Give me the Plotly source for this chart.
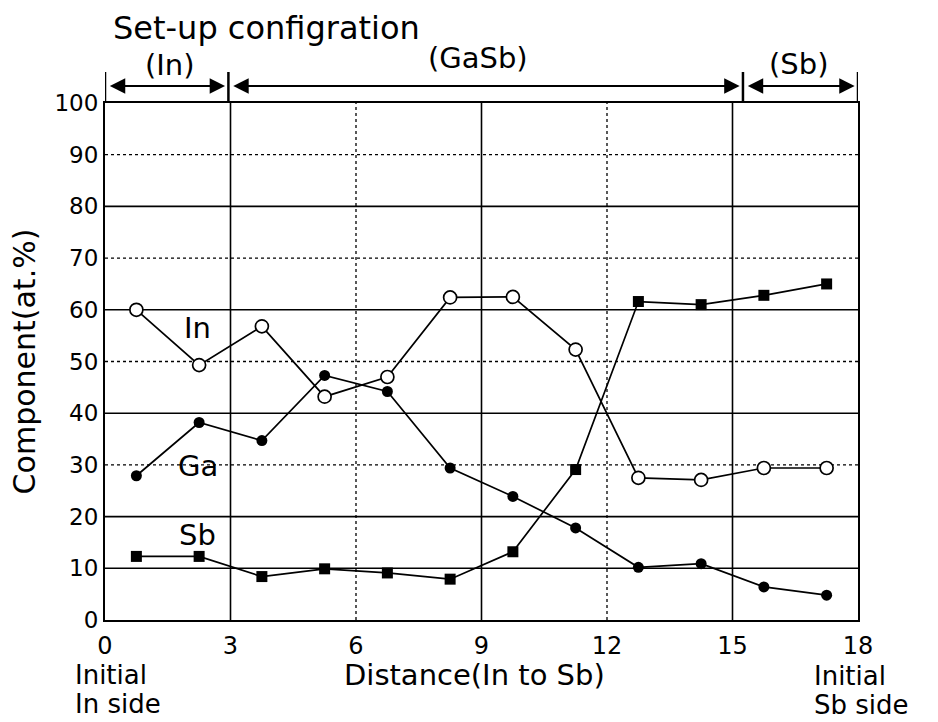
import plotly.graph_objects as go

# ---- data ----
distance = [0.75, 2.25, 3.75, 5.25, 6.75, 8.25, 9.75, 11.25, 12.75, 14.25, 15.75, 17.25]
in_vals = [60, 49.3, 56.8, 43.2, 47, 62.4, 62.5, 52.3, 27.5, 27.1, 29.4, 29.4]
ga_vals = [27.9, 38.2, 34.7, 47.3, 44.2, 29.4, 23.9, 17.8, 10.2, 10.9, 6.4, 4.8]
sb_vals = [12.3, 12.3, 8.4, 9.9, 9.1, 7.9, 13.2, 29.1, 61.6, 61, 62.8, 65]

x_ticks = [0, 3, 6, 9, 12, 15, 18]
y_ticks = [0, 10, 20, 30, 40, 50, 60, 70, 80, 90, 100]
h_solid = [10, 20, 40, 60, 80]
h_dotted = [30, 50, 70, 90]
v_solid = [3, 9, 15]
v_dotted = [6, 12]

region_labels = ["(In)", "(GaSb)", "(Sb)"]
region_starts = [0, 2.95, 15.25]
region_ends = [2.95, 15.25, 18]

FONT = "DejaVu Sans"
W, H = 938, 722
ML, MR, MT, MB = 105, 80, 103, 102
PW, PH = W - ML - MR, H - MT - MB


def px(xp):
    return (xp - ML) / PW


def py(yp):
    return (H - MB - yp) / PH


fig = go.Figure()

shapes = []
for y in h_solid:
    shapes.append(dict(type="line", xref="x", yref="y", x0=0, x1=18, y0=y, y1=y,
                       line=dict(color="black", width=1.6), layer="below"))
for y in h_dotted:
    shapes.append(dict(type="line", xref="x", yref="y", x0=0, x1=18, y0=y, y1=y,
                       line=dict(color="black", width=1.3, dash="dot"), layer="below"))
for x in v_solid:
    shapes.append(dict(type="line", xref="x", yref="y", x0=x, x1=x, y0=0, y1=100,
                       line=dict(color="black", width=1.6), layer="below"))
for x in v_dotted:
    shapes.append(dict(type="line", xref="x", yref="y", x0=x, x1=x, y0=0, y1=100,
                       line=dict(color="black", width=1.3, dash="dot"), layer="below"))

bounds = sorted(set(region_starts + region_ends))
for b in bounds:
    shapes.append(dict(type="line", xref="x", yref="paper", x0=b, x1=b, y0=py(101), y1=py(72),
                       line=dict(color="black", width=2.5)))

line_style = dict(color="black", width=1.7)

fig.add_trace(go.Scatter(x=distance, y=in_vals, mode="lines+markers", name="In",
                         line=line_style,
                         marker=dict(symbol="circle", size=13, color="white",
                                     line=dict(color="black", width=1.7))))
fig.add_trace(go.Scatter(x=distance, y=ga_vals, mode="lines+markers", name="Ga",
                         line=line_style,
                         marker=dict(symbol="circle", size=11, color="black")))
fig.add_trace(go.Scatter(x=distance, y=sb_vals, mode="lines+markers", name="Sb",
                         line=line_style,
                         marker=dict(symbol="square", size=11, color="black")))

tf = dict(size=29, family=FONT, color="black")
annotations = []
for a, b in zip(region_starts, region_ends):
    annotations.append(dict(x=b - 0.08, y=py(86), ax=a + 0.08, ay=py(86),
                            xref="x", yref="y domain", axref="x", ayref="y domain",
                            showarrow=True, arrowhead=2, arrowside="end+start",
                            arrowsize=1.4, arrowwidth=2.2, arrowcolor="black", text=""))
label_pos = [(170, 65), (478, 58), (798, 64)]
for lab, (lx, ly) in zip(region_labels, label_pos):
    annotations.append(dict(x=px(lx), y=py(ly), xref="paper", yref="paper", text=lab,
                            xanchor="center", yanchor="middle", showarrow=False, font=tf))
annotations.append(dict(x=px(266), y=py(28), xref="paper", yref="paper",
                        text="Set-up configration", showarrow=False,
                        xanchor="center", yanchor="middle",
                        font=dict(size=32, family=FONT, color="black")))

series_labels = ["In", "Ga", "Sb"]
series_label_x = [2.22, 2.22, 2.22]
series_label_y = [56.5, 29.8, 16.4]
for t, lx, ly in zip(series_labels, series_label_x, series_label_y):
    annotations.append(dict(x=lx, y=ly, xref="x", yref="y", text=t, showarrow=False,
                            xanchor="center", yanchor="middle", font=tf))

# x-axis title
annotations.append(dict(x=px(474), y=py(675), xref="paper", yref="paper",
                        text="Distance(In to Sb)", showarrow=False,
                        xanchor="center", yanchor="middle",
                        font=dict(size=29, family=FONT, color="black")))

side_texts = [("Initial", 73, 675), ("In side", 73, 704), ("Initial", 812, 676), ("Sb side", 812, 705)]
for t, lx, ly in side_texts:
    annotations.append(dict(x=px(lx), y=py(ly), xref="paper", yref="paper", text=t,
                            xanchor="left", yanchor="middle", showarrow=False,
                            font=dict(size=26, family=FONT, color="black")))

fig.update_layout(
    shapes=shapes, annotations=annotations,
    width=W, height=H,
    margin=dict(l=ML, r=MR, t=MT, b=MB),
    paper_bgcolor="white", plot_bgcolor="white",
    showlegend=False,
    font=dict(family=FONT, color="black"),
    xaxis=dict(range=[0, 18], tickvals=x_ticks, ticktext=[str(v) for v in x_ticks],
               showgrid=False, zeroline=False, showline=True, linecolor="black",
               linewidth=2, mirror=True, ticks="", tickfont=dict(size=24, family=FONT),
               ticklabelstandoff=3),
    yaxis=dict(range=[0, 100], tickvals=y_ticks, ticktext=[str(v) for v in y_ticks],
               showgrid=False, zeroline=False, showline=True, linecolor="black",
               linewidth=2, mirror=True, ticks="", tickfont=dict(size=23, family=FONT),
               ticklabelstandoff=0,
               title=dict(text="Component(at.%)", font=dict(size=30, family=FONT), standoff=10)),
)

fig.write_html("out.html")
